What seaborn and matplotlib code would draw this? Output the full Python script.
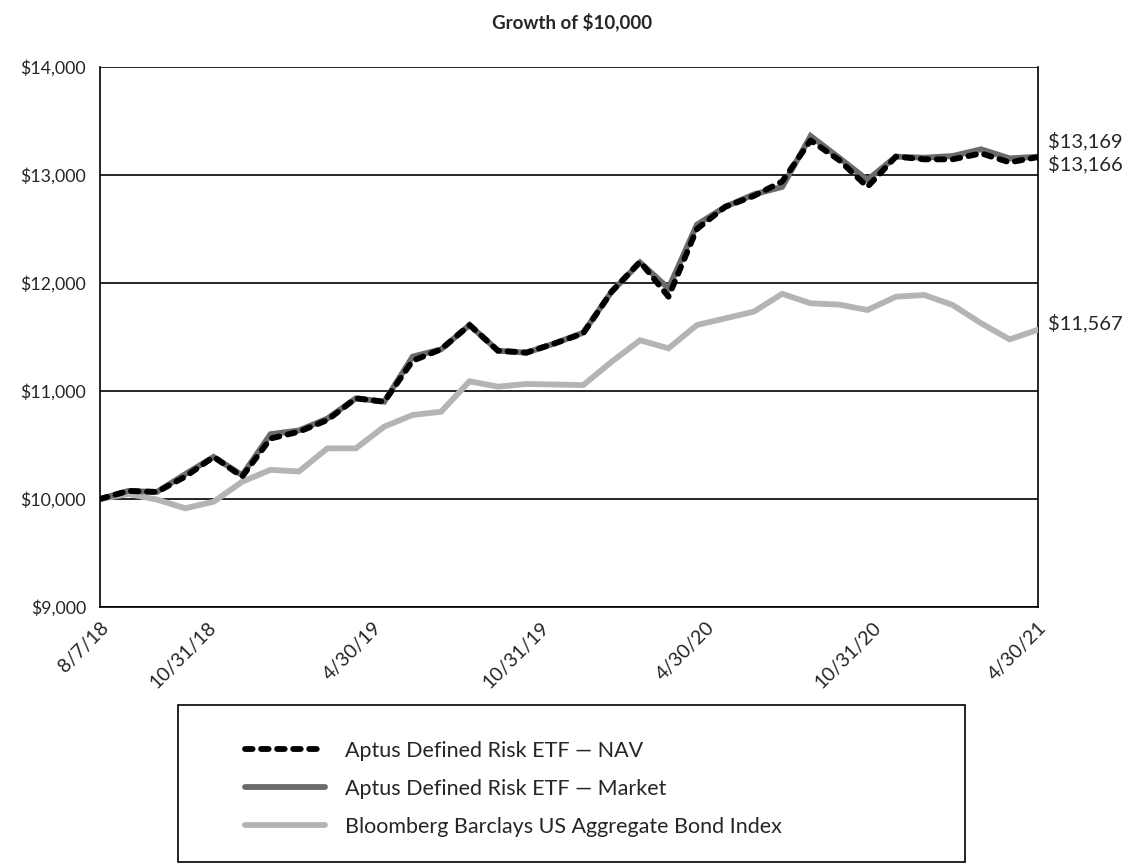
import numpy as np
import pandas as pd
import matplotlib
matplotlib.use("Agg")
import matplotlib.pyplot as plt
import matplotlib.patches as mpatches
import matplotlib.transforms as mtransforms
from matplotlib.lines import Line2D
import seaborn as sns

# ---- data ----
nav = [10000, 10075, 10065, 10207, 10390, 10207, 10560, 10623, 10731, 10932,
       10901, 11280, 11386, 11611, 11373, 11355, 11441, 11534, 11920, 12197,
       11873, 12500, 12706, 12806, 12940, 13320, 13139, 12890, 13170, 13145,
       13145, 13200, 13117, 13166]
market = [10000, 10075, 10065, 10230, 10390, 10220, 10600, 10635, 10745, 10932,
          10901, 11318, 11386, 11611, 11373, 11355, 11441, 11540, 11920, 12190,
          11950, 12540, 12706, 12820, 12890, 13361, 13160, 12954, 13170, 13160,
          13176, 13238, 13154, 13169]
bond = [10000, 10046, 9995, 9914, 9975, 10160, 10270, 10255, 10469, 10469,
        10670, 10778, 10808, 11090, 11040, 11065, 11060, 11055, 11271, 11470,
        11395, 11611, 11673, 11734, 11900, 11812, 11800, 11750, 11873, 11889,
        11796, 11627, 11478, 11567]
tick_labels = ["8/7/18", "10/31/18", "4/30/19", "10/31/19", "4/30/20", "10/31/20", "4/30/21"]
tick_pos = [0, 3.77, 9.61, 15.48, 21.32, 27.16, 33]
end_labels = ["$13,169", "$13,166", "$11,567"]
series_names = ["Aptus Defined Risk ETF \u2014 NAV",
                "Aptus Defined Risk ETF \u2014 Market",
                "Bloomberg Barclays US Aggregate Bond Index"]

idx = np.arange(len(nav))
df = pd.DataFrame({"idx": idx, "nav": nav, "market": market, "bond": bond})

sns.set_style("white")
plt.rcParams["font.family"] = ["Lato", "DejaVu Sans"]

fig = plt.figure(figsize=(11.32, 8.63), dpi=100)
ax = fig.add_axes([100/1132, 1-607/863, (1038-100)/1132, (607-67)/863])

lw = 4.2
dash = (0, (1.3, 1.45))
c_bond = "#b2b4b6"
c_mkt = "#6b6b6b"
sns.lineplot(data=df, x="idx", y="bond", ax=ax, color=c_bond, lw=lw,
             solid_capstyle="round", solid_joinstyle="miter", zorder=3)
sns.lineplot(data=df, x="idx", y="market", ax=ax, color=c_mkt, lw=lw,
             solid_capstyle="butt", solid_joinstyle="miter", zorder=4)
sns.lineplot(data=df, x="idx", y="nav", ax=ax, color="black", lw=lw,
             linestyle=dash, dash_capstyle="round", zorder=5)

ax.set_xlim(0, 33)
ax.set_ylim(9000, 14000)
ax.set_yticks(np.arange(9000, 14001, 1000))
ax.set_yticklabels([f"${v:,.0f}" for v in np.arange(9000, 14001, 1000)], fontsize=12.8)
ax.yaxis.grid(True, color="black", lw=1.2)
ax.set_axisbelow(True)
ax.tick_params(axis="y", length=0, pad=10)
ax.set_xticks(tick_pos)
ax.set_xticklabels(tick_labels, rotation=45, ha="right", va="center",
                   rotation_mode="anchor", fontsize=14)
ax.tick_params(axis="x", direction="in", length=9, width=1.2, pad=13, color="black")
shift = mtransforms.ScaledTranslation(6/100, 0, fig.dpi_scale_trans)
for lab in ax.get_xticklabels():
    lab.set_transform(lab.get_transform() + shift)
ax.set_xlabel("")
ax.set_ylabel("")
for s in ["left", "bottom", "right"]:
    ax.spines[s].set_visible(True)
    ax.spines[s].set_color("black")
    ax.spines[s].set_linewidth(1.2)
ax.spines["top"].set_visible(False)

fig.text(0.505, 1-22/863, "Growth of $10,000", ha="center", va="center",
         fontsize=13.5, fontweight="bold")

# end labels
ax.annotate(end_labels[0], xy=(33, market[-1]), xytext=(7, 11), textcoords="offset points",
            ha="left", va="center", fontsize=14.5, annotation_clip=False)
ax.annotate(end_labels[1], xy=(33, nav[-1]), xytext=(7, -5), textcoords="offset points",
            ha="left", va="center", fontsize=14.5, annotation_clip=False)
ax.annotate(end_labels[2], xy=(33, bond[-1]), xytext=(7, 5), textcoords="offset points",
            ha="left", va="center", fontsize=14.5, annotation_clip=False)

# legend box
rect = mpatches.Rectangle((178/1132, 1/863), (965-178)/1132, (862-705)/863,
                          transform=fig.transFigure, fill=False, edgecolor="black", lw=1.2)
fig.patches.append(rect)

handles = [Line2D([], [], color="black", lw=lw, linestyle=dash, dash_capstyle="round"),
           Line2D([], [], color=c_mkt, lw=lw, solid_capstyle="round"),
           Line2D([], [], color=c_bond, lw=lw, solid_capstyle="round")]
fig.legend(handles, series_names, loc="upper left",
           bbox_to_anchor=(245/1132, 1-741/863), frameon=False, fontsize=15.5,
           handlelength=3.7, handletextpad=0.95, labelspacing=0.83,
           borderpad=0, borderaxespad=0)

fig.savefig("out.png", dpi=100)
